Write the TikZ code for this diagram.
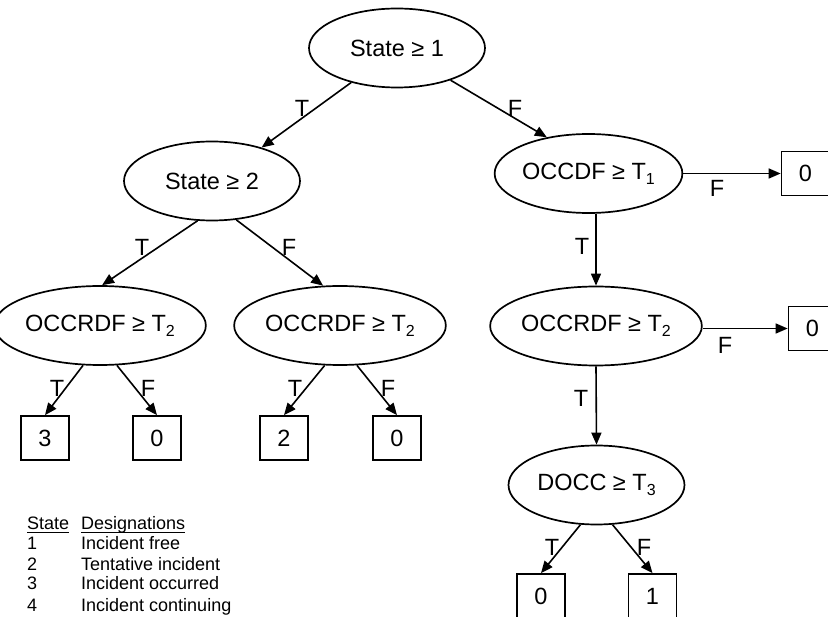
\documentclass[tikz,border=0pt]{standalone}
\usepackage{fontspec}
\setmainfont{Liberation Sans}
\usetikzlibrary{shapes.geometric,arrows.meta,calc}
\newcommand{\subsc}[1]{\raisebox{-5pt}{\fontsize{16}{16}\selectfont #1}}
\begin{document}
\begin{tikzpicture}[x=1pt,y=-1pt,
  every node/.style={font=\fontsize{23.5}{27}\selectfont},
  dec/.style={ellipse,draw,line width=1.7pt,minimum width=176pt,minimum height=79pt,inner sep=0pt},
  leaf/.style={rectangle,draw,line width=1.7pt,minimum width=48pt,minimum height=44pt,inner sep=0pt},
  arr/.style={line width=1.6pt,-{Triangle[length=12pt,width=10pt]}},
  lab/.style={inner sep=0pt},
  leg/.style={anchor=base west,inner sep=0pt,font=\fontsize{18}{20}\selectfont}]
\clip (0,0) rectangle (828,617);
% decision nodes
\node[dec] (root) at (397,48) {State ≥ 1};
\node[dec] (s2) at (212,181) {State ≥ 2};
\node[dec] (occl) at (100,325.5) {OCCRDF ≥ T\subsc{2}};
\node[dec] (occm) at (340,325.5) {OCCRDF ≥ T\subsc{2}};
\node[dec] (occdf) at (588.5,173.5) {OCCDF ≥ T\subsc{1}};
\node[dec] (occr) at (596,326) {OCCRDF ≥ T\subsc{2}};
\node[dec] (docc) at (596.5,485) {DOCC ≥ T\subsc{3}};
% leaves
\node[leaf] (l3) at (45,438) {3};
\node[leaf] (l0a) at (157,438) {0};
\node[leaf] (l2) at (284,438) {2};
\node[leaf] (l0b) at (397,438) {0};
\node[leaf] (r0a) at (805.5,173.5) {0};
\node[leaf] (r0b) at (812.5,328.5) {0};
\node[leaf] (b0) at (541,596) {0};
\node[leaf] (b1) at (652.5,596) {1};
% connectors
\draw[arr] (root.-143) -- (s2.34);
\draw[arr] (root.-31) -- (occdf.139);
\draw[arr] (s2.-110) -- (occl.87);
\draw[arr] (s2.-58) -- (occm.113);
\draw[arr] (occl.-113) -- (l3.north);
\draw[arr] (occl.-67) -- (l0a.north);
\draw[arr] (occm.-111) -- (l2.north);
\draw[arr] (occm.-67) -- (l0b.north);
\draw[arr] (occdf.east) -- (r0a.west);
\draw[arr] (occr.north |- occdf.south) -- (occr.north);
\draw[arr] (r0b.west -| occr.east) -- (r0b.west);
\draw[arr] (occr.south) -- (docc.north);
\draw[arr] (docc.-112) -- (b0.north);
\draw[arr] (docc.-68) -- (b1.north);
% edge labels
\node[lab] (t1) at (302,108) {T};
\node[lab] (f1) at (515,108) {F};
\node[lab] (t2) at (142,247) {T};
\node[lab] (f2) at (289,247) {F};
\node[lab] (t3) at (57,388) {T};
\node[lab] (f3) at (148,388) {F};
\node[lab] (t4) at (295,388) {T};
\node[lab] (f4) at (388,388) {F};
\node[lab] (f5) at (717,188) {F};
\node[lab] (t5) at (582,246) {T};
\node[lab] (f6) at (725,345) {F};
\node[lab] (t6) at (581,398) {T};
\node[lab] (t7) at (552,547) {T};
\node[lab] (f7) at (644,547) {F};
% legend
\node[leg] (hs) at (27,530) {State};
\node[leg] (hd) at (81,530) {Designations};
\draw[line width=1pt] ($(hs.base west)+(0,3)$) -- ($(hs.base east)+(0,3)$);
\draw[line width=1pt] ($(hd.base west)+(0,3)$) -- ($(hd.base east)+(0,3)$);
\node[leg] (n1) at (27,550) {1};
\node[leg] (d1) at (81,550) {Incident free};
\node[leg] (n2) at (27,570) {2};
\node[leg] (d2) at (81,570) {Tentative incident};
\node[leg] (n3) at (27,590) {3};
\node[leg] (d3) at (81,590) {Incident occurred};
\node[leg] (n4) at (27,611) {4};
\node[leg] (d4) at (81,611) {Incident continuing};
\end{tikzpicture}
\end{document}
